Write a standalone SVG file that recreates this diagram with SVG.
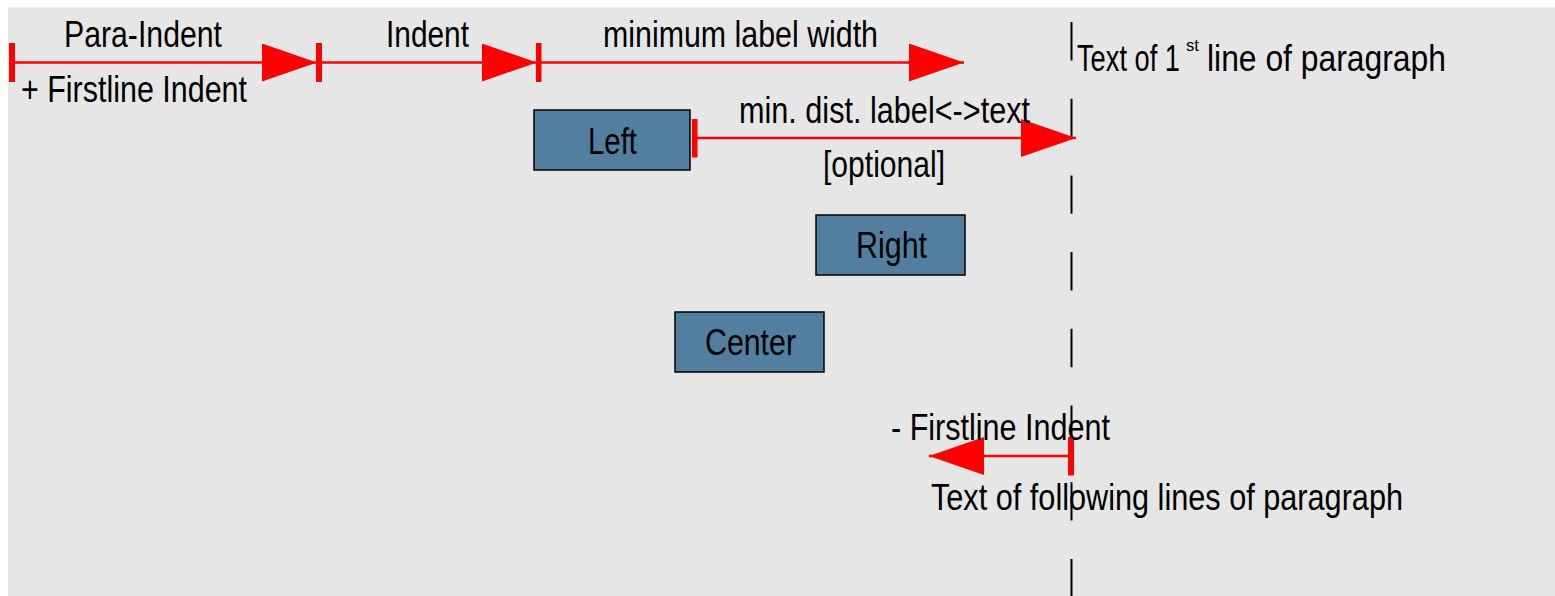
<svg xmlns="http://www.w3.org/2000/svg" width="1555" height="596" viewBox="0 0 1555 596">
<style>
text{font-family:"Liberation Sans Narrow","Liberation Sans",Arial,sans-serif;font-size:36px;fill:#000}
.box{fill:#527f9f;stroke:#000;stroke-width:1.5}
.dim{stroke:#ff0000;stroke-width:2.5;fill:none;marker-start:url(#tick);marker-end:url(#arrow)}
</style>
<defs>
<marker id="arrow" markerUnits="userSpaceOnUse" viewBox="0 0 55 38" markerWidth="55" markerHeight="38" refX="55" refY="19" orient="auto">
<path d="M0,0 L55,19 L0,38 Z" fill="#ff0000"/>
</marker>
<marker id="tick" markerUnits="userSpaceOnUse" viewBox="0 0 6 39" markerWidth="6" markerHeight="39" refX="3" refY="19.5" orient="auto">
<rect x="0" y="0" width="6" height="39" fill="#ff0000"/>
</marker>
</defs>
<rect x="8" y="7.5" width="1547" height="589" fill="#e6e6e6"/>
<g id="connectors">
<path d="M1071.5,22 V596" stroke="#000" stroke-width="2" stroke-dasharray="38.4 38.3" fill="none"/>
<line class="dim" x1="12" y1="62.5" x2="317" y2="62.5"/>
<line class="dim" x1="319" y1="62.5" x2="537" y2="62.5"/>
<line class="dim" x1="538.5" y1="62.5" x2="964" y2="62.5"/>
<line class="dim" x1="694.5" y1="138" x2="1076" y2="138"/>
<line class="dim" x1="1071" y1="456" x2="929" y2="456"/>
</g>
<g id="labels">
<text x="64" y="47" textLength="158" lengthAdjust="spacingAndGlyphs">Para-Indent</text>
<text x="21" y="102" textLength="226" lengthAdjust="spacingAndGlyphs">+ Firstline Indent</text>
<text x="386" y="47" textLength="83" lengthAdjust="spacingAndGlyphs">Indent</text>
<text x="603" y="47" textLength="275" lengthAdjust="spacingAndGlyphs">minimum label width</text>
<text x="1077" y="71" textLength="103" lengthAdjust="spacingAndGlyphs">Text of 1</text>
<text x="1186" y="51" style="font-size:17px" textLength="13" lengthAdjust="spacingAndGlyphs">st</text>
<text x="1207" y="71" textLength="239" lengthAdjust="spacingAndGlyphs">line of paragraph</text>
<text x="739" y="123" textLength="291" lengthAdjust="spacingAndGlyphs">min. dist. label&lt;-&gt;text</text>
<text x="823" y="177" textLength="122" lengthAdjust="spacingAndGlyphs">[optional]</text>
<text x="891" y="440" textLength="219" lengthAdjust="spacingAndGlyphs">- Firstline Indent</text>
<text x="931" y="510" textLength="472" lengthAdjust="spacingAndGlyphs">Text of following lines of paragraph</text>
</g>
<g id="node-left">
<rect class="box" x="534" y="110" width="156" height="60"/>
<text x="588" y="154" textLength="49" lengthAdjust="spacingAndGlyphs">Left</text>
</g>
<g id="node-right">
<rect class="box" x="816" y="215" width="149" height="60"/>
<text x="856" y="258" textLength="71" lengthAdjust="spacingAndGlyphs">Right</text>
</g>
<g id="node-center">
<rect class="box" x="675" y="312" width="149" height="60"/>
<text x="705" y="355" textLength="91" lengthAdjust="spacingAndGlyphs">Center</text>
</g>
</svg>
